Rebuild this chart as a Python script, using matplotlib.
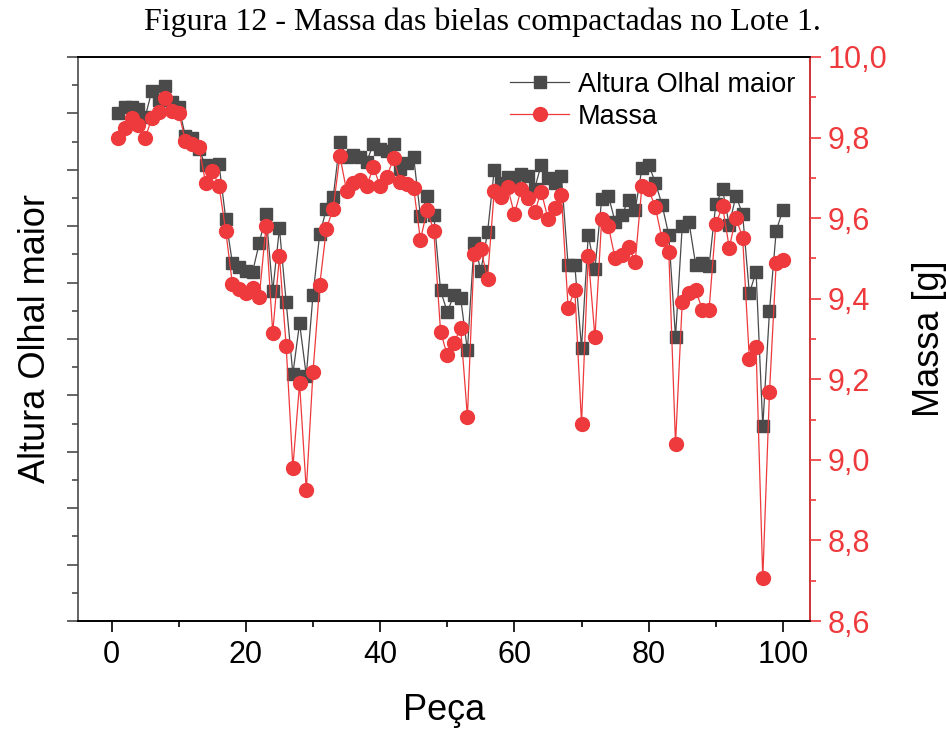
import numpy as np
import matplotlib.pyplot as plt
from matplotlib.ticker import MultipleLocator

# peca index
peca = np.arange(1, 101)

# altura olhal maior (left axis, no scale printed)
altura = [20.301, 20.311, 20.312, 20.307, 20.294, 20.340, 20.323, 20.349, 20.321, 20.312,
          20.259, 20.257, 20.236, 20.208, 20.207, 20.210, 20.113, 20.034, 20.028, 20.021,
          20.019, 20.070, 20.121, 19.985, 20.096, 19.966, 19.838, 19.928, 19.835, 19.978,
          20.086, 20.130, 20.151, 20.250, 20.223, 20.226, 20.222, 20.214, 20.246, 20.236,
          20.233, 20.246, 20.201, 20.212, 20.222, 20.118, 20.154, 20.119, 19.986, 19.948,
          19.978, 19.972, 19.880, 20.071, 20.021, 20.089, 20.200, 20.177, 20.188, 20.177,
          20.192, 20.189, 20.166, 20.209, 20.185, 20.176, 20.189, 20.031, 20.031, 19.884,
          20.084, 20.024, 20.148, 20.154, 20.108, 20.120, 20.146, 20.129, 20.203, 20.209,
          20.177, 20.138, 20.084, 19.903, 20.100, 20.108, 20.032, 20.034, 20.030, 20.139,
          20.165, 20.102, 20.154, 20.121, 19.981, 20.019, 19.745, 19.950, 20.092, 20.129]

# massa [g]
massa = [9.798, 9.823, 9.849, 9.831, 9.798, 9.849, 9.863, 9.899, 9.866, 9.862,
         9.791, 9.785, 9.776, 9.688, 9.718, 9.680, 9.568, 9.436, 9.423, 9.413,
         9.426, 9.405, 9.580, 9.316, 9.505, 9.283, 8.981, 9.190, 8.924, 9.219,
         9.434, 9.574, 9.623, 9.754, 9.668, 9.686, 9.695, 9.680, 9.726, 9.680,
         9.703, 9.748, 9.690, 9.684, 9.674, 9.546, 9.620, 9.568, 9.318, 9.260,
         9.291, 9.326, 9.107, 9.512, 9.524, 9.450, 9.668, 9.652, 9.676, 9.610,
         9.671, 9.651, 9.614, 9.666, 9.599, 9.624, 9.658, 9.378, 9.421, 9.090,
         9.506, 9.304, 9.597, 9.580, 9.500, 9.508, 9.529, 9.492, 9.680, 9.671,
         9.627, 9.547, 9.516, 9.039, 9.392, 9.414, 9.421, 9.373, 9.373, 9.585,
         9.630, 9.527, 9.601, 9.551, 9.250, 9.279, 8.706, 9.169, 9.489, 9.497]

xticks = [0, 20, 40, 60, 80, 100]
mticks = [8.6, 8.8, 9.0, 9.2, 9.4, 9.6, 9.8, 10.0]

cinza = '#4a4a4a'
verm = '#ee3a3c'

plt.rcParams['font.family'] = ['Liberation Sans', 'DejaVu Sans']

fig = plt.figure(figsize=(9.46, 7.30), dpi=100)
ax = fig.add_axes([0.0825, 0.1493, 0.7735, 0.7727])
ax2 = ax.twinx()

l1, = ax.plot(peca, altura, color=cinza, lw=0.9, marker='s', ms=9,
              mec=cinza, mfc=cinza, label='Altura Olhal maior')
l2, = ax2.plot(peca, massa, color=verm, lw=0.9, marker='o', ms=10,
               mec=verm, mfc=verm, label='Massa')

ax.set_xlim(-5, 104)
ax.set_ylim(19.4, 20.4)
ax2.set_ylim(8.6, 10.0)

ax.set_xticks(xticks)
ax.xaxis.set_minor_locator(MultipleLocator(10))
ax.yaxis.set_major_locator(MultipleLocator(0.1))
ax.yaxis.set_minor_locator(MultipleLocator(0.05))
ax.set_yticklabels([])
ax.tick_params(axis='x', direction='out', length=8, width=1.2, labelsize=22, pad=6)
ax.tick_params(axis='x', which='minor', direction='out', length=4, width=1.2)
ax.tick_params(axis='y', which='major', direction='out', length=8, width=1.2, colors=cinza)
ax.tick_params(axis='y', which='minor', direction='out', length=4, width=1.2, colors=cinza)

ax2.set_yticks(mticks)
ax2.set_yticklabels([f'{v:.1f}'.replace('.', ',') for v in mticks])
ax2.yaxis.set_minor_locator(MultipleLocator(0.1))
ax2.tick_params(axis='y', which='major', direction='out', length=8, width=1.2,
                colors=verm, labelsize=22, pad=5)
ax2.tick_params(axis='y', which='minor', direction='out', length=4, width=1.2, colors=verm)

for s in ax.spines.values():
    s.set_linewidth(1.2)
ax.spines['left'].set_color(cinza)
for s in ax2.spines.values():
    s.set_linewidth(1.2)
ax2.spines['right'].set_color(verm)
ax2.spines['left'].set_visible(False)

ax.set_xlabel('Peça', fontsize=26)
ax.xaxis.set_label_coords(0.5, -0.128)
ax.set_ylabel('Altura Olhal maior', fontsize=26)
ax.yaxis.set_label_coords(-0.034, 0.5)
ax2.set_ylabel('Massa [g]', fontsize=26, rotation=90)
ax2.yaxis.set_label_coords(1.14, 0.5)

ax2.legend(handles=[l1, l2], loc='upper right', frameon=False, fontsize=19.5,
           handlelength=2.2, handletextpad=0.3, labelspacing=0.22,
           borderaxespad=0.15)

fig.text(0.51, 0.97, 'Figura 12 - Massa das bielas compactadas no Lote 1.',
         ha='center', va='center', fontsize=23, family='Liberation Serif')

fig.savefig('out.png', dpi=100)
